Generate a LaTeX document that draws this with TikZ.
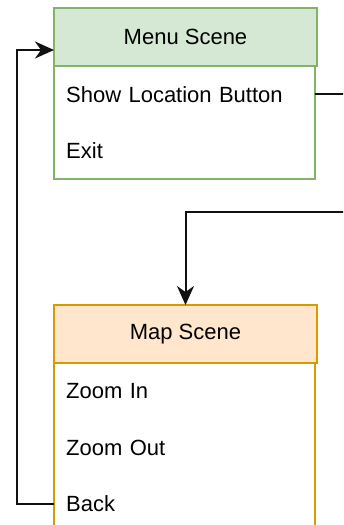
\documentclass[tikz,border=0pt]{standalone}
\usepackage{fontspec}
\setmainfont{Liberation Sans}
\usetikzlibrary{arrows.meta}
\definecolor{menufill}{HTML}{D5E8D4}
\definecolor{menuline}{HTML}{82B366}
\definecolor{mapfill}{HTML}{FFE6CC}
\definecolor{mapline}{HTML}{D79B00}
\definecolor{wire}{HTML}{111111}
\begin{document}
\begin{tikzpicture}[x=1pt,y=-1pt,
  font=\fontsize{22}{26}\selectfont,
  header/.style={rectangle, minimum width=261pt, minimum height=56pt,
    inner sep=0pt, anchor=north west, line width=2pt},
  row/.style={rectangle, minimum width=261pt, minimum height=56pt,
    text width=237pt, inner xsep=12pt, inner ysep=0pt, align=left,
    anchor=north west},
  frame/.style={line width=2pt},
  wire/.style={draw=wire, line width=2pt},
  tip/.style={-{Stealth[length=19pt, width=17pt, inset=6pt]}}]
\useasboundingbox (0,0) rectangle (343,525);
\clip (0,0) rectangle (343,525);

% Menu scene panel
\node[header] (mhead) at (54,8) {};
\node[row] (show) at (mhead.south west) {Show Location Button};
\node[row] (exit) at (show.south west) {Exit};
\draw[frame, menuline] (mhead.north west) rectangle (exit.south east);
\draw[frame, menuline, fill=menufill] (mhead.north west) rectangle (mhead.south east);
\node[header] at (mhead.north west) {Menu Scene};

% Map scene panel
\node[header] (maphead) at (54,305) {};
\node[row] (zin) at (maphead.south west) {Zoom In};
\node[row] (zout) at (zin.south west) {Zoom Out};
\node[row] (back) at (zout.south west) {Back};
\draw[frame, mapline] (maphead.north west) rectangle (back.south east);
\draw[frame, mapline, fill=mapfill] (maphead.north west) rectangle (maphead.south east);
\node[header] at (maphead.north west) {Map Scene};

% Connectors
\coordinate (turn) at (356,212);
\coordinate (loop) at (17,50);
\draw[wire, tip] (show.east) -| (turn) -| (maphead.north);
\draw[wire, tip] (back.west) -| (loop) -- (mhead.west |- loop);
\end{tikzpicture}
\end{document}
